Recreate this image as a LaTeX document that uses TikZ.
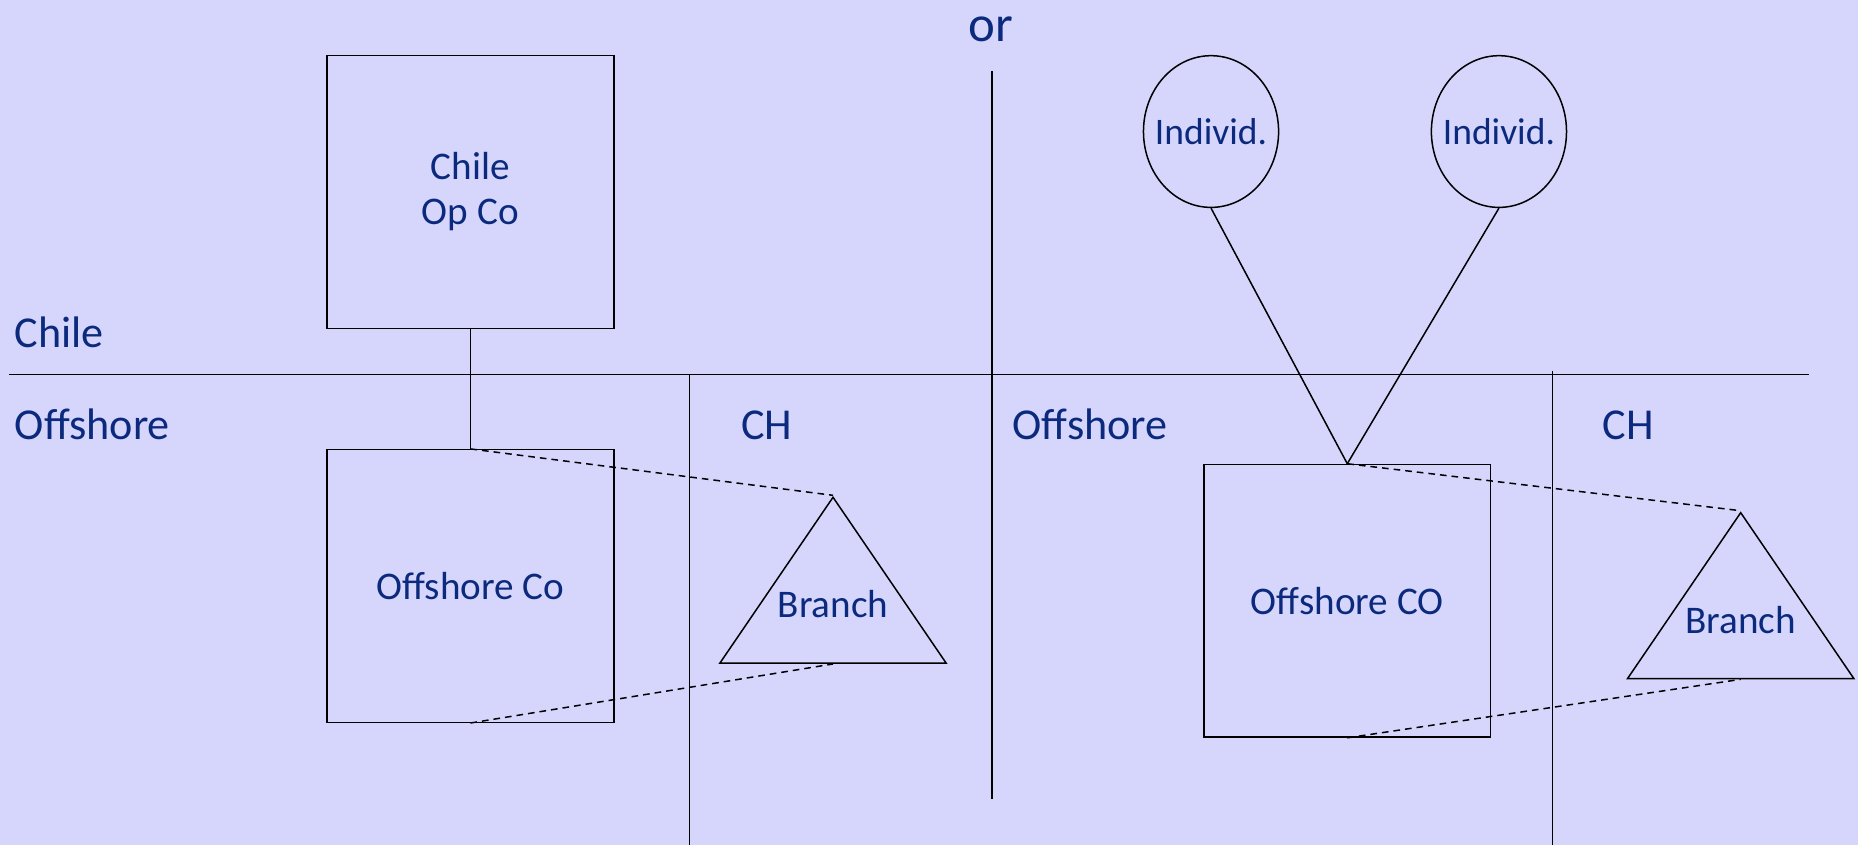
\documentclass[tikz,border=0pt]{standalone}
\usepackage{fontspec}
\setmainfont{Carlito}
\usepackage{tikz}
\usetikzlibrary{positioning, shapes.geometric}

\definecolor{bg}{RGB}{214,214,252}
\definecolor{ink}{RGB}{12,42,125}

\begin{document}
\begin{tikzpicture}[x=0.025cm, y=-0.025cm, line width=0.9pt]

	\tikzset{
		company/.style={
				rectangle, draw=black, text=ink, align=center, inner sep=0pt, minimum width=6.05cm, minimum height=5.75cm, font=\fontsize{23.5}{27}\selectfont
			},
		person/.style={
				ellipse, draw=black, text=ink, inner ysep=0pt, inner xsep=-0.3cm, minimum width=2.85cm, minimum height=3.2cm, font=\fontsize{22.5}{26}\selectfont
			},
		branch/.style={
				isosceles triangle, isosceles triangle stretches, shape border rotate=90, draw=black, inner sep=0pt, minimum width=4.775cm, minimum height=3.5cm
			},
		tag/.style={
				text=ink, inner sep=0pt, font=\fontsize{23.5}{27}\selectfont
			},
		zone/.style={
				text=ink, inner sep=0pt, anchor=base west, font=\fontsize{26.5}{30}\selectfont
			},
		link/.style={dash pattern=on 4pt off 3pt},
	}

	\fill[bg] (0,0) rectangle (1568,713);
	\useasboundingbox (0,0) rectangle (1568,713);

	% borders
	\coordinate (w) at (8,316);
	\coordinate (e) at (1527,316);
	\coordinate (v1a) at (582,316);
	\coordinate (v1b) at (582,713);
	\coordinate (v2a) at (837,60);
	\coordinate (v2b) at (837,674);
	\coordinate (v3a) at (1310,313);
	\coordinate (v3b) at (1310,713);
	\draw (w)--(e);
	\draw (v1a)--(v1b);
	\draw (v2a)--(v2b);
	\draw (v3a)--(v3b);

	\node[text=ink, inner sep=0pt, anchor=base, font=\fontsize{30.5}{34}\selectfont] (or) at (836,35) {or};

	\node[zone] (t1) at (12,293) {Chile};
	\node[zone] (t2) at (12,371) {Offshore};
	\node[zone] (t3) at (625,371) {CH};
	\node[zone] (t4) at (854,371) {Offshore};
	\node[zone] (t5) at (1352,371) {CH};

	% left side
	\node[company] (op) at (397,162) {Chile\\Op Co};
	\node[company] (oc1) at (397,494.5) {Offshore Co};
	\node[branch, anchor=apex] (br1) at (703,418) {};
	\node[tag, above=0.95cm of br1.lower side] (b1) {Branch};

	\draw (op.south)--(oc1.north);
	\draw[link] (oc1.north)--(br1.apex);
	\draw[link] (oc1.south)--(br1.lower side);

	% right side
	\node[person] (in1) at (1022,111) {Individ.};
	\node[person] (in2) at (1265,111) {Individ.};
	\node[company] (oc2) at (1137,507) {Offshore CO};
	\node[branch, anchor=apex] (br2) at (1469,431) {};
	\node[tag, above=0.95cm of br2.lower side] (b2) {Branch};

	\draw (in1.south)--(oc2.north);
	\draw (in2.south)--(oc2.north);
	\draw[link] (oc2.north)--(br2.apex);
	\draw[link] (oc2.south)--(br2.lower side);

\end{tikzpicture}
\end{document}
